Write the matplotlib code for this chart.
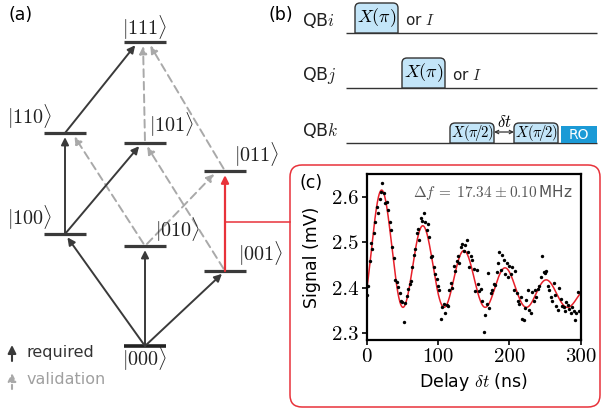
import numpy as np
import matplotlib.pyplot as plt
from matplotlib.patches import FancyBboxPatch, Rectangle, PathPatch
from matplotlib.path import Path

plt.rcParams['mathtext.fontset'] = 'cm'
plt.rcParams['font.family'] = 'DejaVu Sans'

# ---- (a) level diagram data
states = ['000', '100', '010', '001', '110', '101', '011', '111']
state_col = [1, 0, 1, 2, 0, 1, 2, 1]
state_energy = [0, 112, 100, 75, 213, 203, 175, 304]
required = [('000', '100'), ('000', '010'), ('000', '001'),
            ('100', '110'), ('100', '101'), ('110', '111')]
validation = [('010', '110'), ('010', '011'), ('001', '101'),
              ('101', '111'), ('011', '111')]
measured = [('001', '011')]

# ---- (b) pulse sequence data
qubits = ['QB$i$', 'QB$j$', 'QB$k$']
pulse_qubit = [0, 1, 2, 2]
pulse_start = [9, 56, 104, 168]
pulse_len = [43, 43, 44, 44]
pulse_angle = [1.0, 1.0, 0.5, 0.5]   # in units of pi
pulse_label = [r'$X(\pi)$', r'$X(\pi)$', r'$X(\pi\!/\!2)$', r'$X(\pi\!/\!2)$']
ro_start, ro_len = 215, 36
seq_end = 251

# ---- (c) Ramsey data
delay_ns = np.arange(0, 300, 2)
signal_mv = [
    2.385, 2.405, 2.460, 2.498, 2.485, 2.522, 2.545, 2.578, 2.565, 2.595,
    2.612, 2.632, 2.610, 2.588, 2.590, 2.572, 2.545, 2.528, 2.490, 2.465,
    2.418, 2.412, 2.402, 2.388, 2.370, 2.368, 2.324, 2.366, 2.382, 2.398,
    2.408, 2.415, 2.445, 2.472, 2.485, 2.520, 2.530, 2.505, 2.555, 2.548,
    2.565, 2.545, 2.527, 2.541, 2.512, 2.468, 2.470, 2.445, 2.430, 2.420,
    2.405, 2.395, 2.331, 2.358, 2.365, 2.345, 2.362, 2.360, 2.395, 2.410,
    2.400, 2.448, 2.438, 2.460, 2.470, 2.455, 2.490, 2.497, 2.482, 2.495,
    2.505, 2.478, 2.445, 2.470, 2.462, 2.442, 2.392, 2.440, 2.408, 2.392,
    2.398, 2.372, 2.303, 2.340, 2.365, 2.432, 2.356, 2.388, 2.396, 2.408,
    2.407, 2.435, 2.455, 2.480, 2.440, 2.473, 2.462, 2.430, 2.455, 2.425,
    2.448, 2.430, 2.445, 2.395, 2.438, 2.388, 2.372, 2.365, 2.380, 2.332,
    2.330, 2.355, 2.373, 2.395, 2.352, 2.345, 2.390, 2.370, 2.395, 2.380,
    2.398, 2.405, 2.425, 2.470, 2.435, 2.432, 2.438, 2.405, 2.395, 2.380,
    2.372, 2.410, 2.385, 2.360, 2.352, 2.400, 2.375, 2.360, 2.357, 2.348,
    2.368, 2.362, 2.353, 2.345, 2.358, 2.350, 2.330, 2.345, 2.390, 2.348,
]
# fit parameters (decaying Ramsey fringe)
fit_freq_mhz = 17.34
fit_base = 2.357
fit_amp = 0.148
fit_t2 = 159.0
fit_tpeak = 22.0

W, H = 602, 409
fig = plt.figure(figsize=(W / 100, H / 100), dpi=100)

dark = '#3a3a3a'
light = '#a9a9a9'
red = '#e8323a'

# ================= (a)
ax_a = fig.add_axes([0, 0, 290 / W, 1])
ax_a.set_xlim(-0.8125, 2.8125)
ax_a.set_ylim(-63, 346)
ax_a.axis('off')
pos = {s: (c, e) for s, c, e in zip(states, state_col, state_energy)}

for s in states:
    c, e = pos[s]
    ax_a.hlines(e, c - 0.26, c + 0.26, color='#222' if s == '000' else dark,
                lw=2.6 if s == '000' else 2.3, zorder=3)

tip_off = {('100', '101'): -0.04, ('110', '111'): -0.09,
           ('010', '110'): 0.09, ('010', '011'): -0.1,
           ('101', '111'): -0.025, ('011', '111'): 0.04}

def draw_arrow(src, dst, color, ls='-', shrinkA=0, lw=1.4):
    (c0, e0), (c1, e1) = pos[src], pos[dst]
    c1 = c1 + tip_off.get((src, dst), 0)
    ax_a.annotate('', xy=(c1, e1), xytext=(c0, e0),
                  arrowprops=dict(arrowstyle='-|>', color=color, lw=lw,
                                  linestyle=ls, shrinkA=shrinkA, shrinkB=3,
                                  mutation_scale=11))

for s, d in validation:
    draw_arrow(s, d, light, ls=(0, (4, 2.5)), shrinkA=2)
for s, d in required:
    draw_arrow(s, d, dark)
for s, d in measured:
    draw_arrow(s, d, red, lw=1.6)

label_off = {'111': (0, 14), '110': (-0.44, 16), '100': (-0.44, 16),
             '101': (0.33, 18), '010': (0.41, 16), '011': (0.4, 16),
             '001': (0.44, 17), '000': (0, -13)}
for s in states:
    c, e = pos[s]
    dx, dy = label_off[s]
    ax_a.text(c + dx, e + dy, r'$|%s\rangle$' % s, ha='center', va='center',
              fontsize=14.5, color='#222')

# connector to panel (c)
c_m, e_m = pos['001'][0], 124
ax_a.plot([c_m, 2.8125], [e_m, e_m], color=red, lw=1.1, clip_on=False)

# legend
ax_a.annotate('', xy=(-0.6625, 1), xytext=(-0.6625, -15),
              arrowprops=dict(arrowstyle='-|>', color=dark, lw=1.5,
                              shrinkA=0, shrinkB=0, mutation_scale=12))
ax_a.text(-0.475, -6, 'required', fontsize=11.5, color='#333', va='center')
ax_a.annotate('', xy=(-0.6625, -27), xytext=(-0.6625, -43),
              arrowprops=dict(arrowstyle='-|>', color=light, lw=1.5,
                              linestyle=(0, (2, 1.5)), shrinkA=0, shrinkB=0,
                              mutation_scale=12))
ax_a.text(-0.475, -34, 'validation', fontsize=11.5, color='#a0a0a0', va='center')

# ================= (b)
ax_b = fig.add_axes([290 / W, (H - 155) / H, 312 / W, 155 / H])
ax_b.set_xlim(-56, 256)
ax_b.set_ylim(-2.218, 0.6)
ax_b.axis('off')

px_y = 1 / 55.0
for q, name in enumerate(qubits):
    ax_b.hlines(-q, 0, seq_end, color='#333', lw=1.0)
    ax_b.text(-44, -q + 13 * px_y, name, fontsize=12.5, va='center', color='#222')

def top_round_box(x0, y0, w, h, rx, ry):
    verts = [(x0, y0), (x0, y0 + h - ry), (x0, y0 + h), (x0 + rx, y0 + h),
             (x0 + w - rx, y0 + h), (x0 + w, y0 + h), (x0 + w, y0 + h - ry),
             (x0 + w, y0), (x0, y0)]
    codes = [Path.MOVETO, Path.LINETO, Path.CURVE3, Path.CURVE3, Path.LINETO,
             Path.CURVE3, Path.CURVE3, Path.LINETO, Path.CLOSEPOLY]
    return Path(verts, codes)

for q, x0, w, ang, lab in zip(pulse_qubit, pulse_start, pulse_len, pulse_angle, pulse_label):
    h = (10 + 20 * ang) * px_y
    p = PathPatch(top_round_box(x0, -q, w, h, 5, 5 * px_y),
                  facecolor='#c3e5f8', edgecolor='#333', lw=1.0, zorder=3)
    ax_b.add_patch(p)
    ax_b.text(x0 + w / 2, -q + h / 2, lab, ha='center', va='center',
              fontsize=13 if ang == 1 else 10.5, zorder=4)
    if ang == 1:
        ax_b.text(x0 + w + 7, -q + 13 * px_y, 'or $I$', fontsize=11,
                  va='center', color='#222')

ax_b.add_patch(Rectangle((ro_start, -2), ro_len, 17 * px_y,
                         facecolor='#1b9ad6', edgecolor='none', zorder=3))
ax_b.text(ro_start + ro_len / 2, -2 + 8.5 * px_y, 'RO', color='white',
          ha='center', va='center', fontsize=10, zorder=4)
gap0 = pulse_start[2] + pulse_len[2]
gap1 = pulse_start[3]
ax_b.annotate('', xy=(gap0, -2 + 11 * px_y), xytext=(gap1, -2 + 11 * px_y),
              arrowprops=dict(arrowstyle='<->', color='#333', lw=0.9,
                              shrinkA=0, shrinkB=0, mutation_scale=6))
ax_b.text((gap0 + gap1) / 2, -2 + 21 * px_y, r'$\delta t$', ha='center',
          va='center', fontsize=12)

# ================= red frame
frame = FancyBboxPatch((290 / W, 2 / H), 310 / W, 242 / H,
                       boxstyle='round,pad=0,rounding_size=%f' % (12 / W),
                       mutation_aspect=W / H, transform=fig.transFigure,
                       facecolor='none', edgecolor=red, lw=1.1)
fig.add_artist(frame)

# ================= (c)
ax_c = fig.add_axes([366.7 / W, (H - 340) / H, 214 / W, 166 / H])
tt = np.linspace(0, 300, 601)
fit = fit_base + fit_amp * np.exp(-tt / fit_t2) * (
    1 + np.cos(2 * np.pi * fit_freq_mhz * 1e-3 * (tt - fit_tpeak)))
ax_c.plot(tt, fit, color='#e8202a', lw=1.1, zorder=2)
ax_c.scatter(delay_ns, signal_mv, s=6, c='k', lw=0, zorder=3)
ax_c.set_xlim(0, 300)
ax_c.set_ylim(2.285, 2.651)
ax_c.set_xticks([0, 100, 200, 300])
ax_c.set_yticks([2.3, 2.4, 2.5, 2.6])
ax_c.set_yticklabels(['2.3', '2.4', '2.5', '2.6'])
for lab in ax_c.get_xticklabels() + ax_c.get_yticklabels():
    lab.set_fontfamily('cmr10')
    lab.set_fontsize(15)
ax_c.tick_params(direction='out', length=3.6, width=1.2, pad=2.5)
for sp in ax_c.spines.values():
    sp.set_linewidth(1.6)
ax_c.set_xlabel(r'Delay $\delta t$ (ns)', fontsize=12.5, va='center')
ax_c.set_ylabel('Signal (mV)', fontsize=12.5, va='center')
ax_c.xaxis.set_label_coords(0.497, -0.253)
ax_c.yaxis.set_label_coords(-0.257, 0.5)
ax_c.text(0.959, 0.886, r'$\Delta f\:=\:17.34\:\pm\:0.10\,$MHz',
          transform=ax_c.transAxes, ha='right', va='center', fontsize=11,
          color='#555')

fig.text(8 / W, 1 - 15 / H, '(a)', fontsize=12.5, va='center')
fig.text(268 / W, 1 - 15 / H, '(b)', fontsize=12.5, va='center')
fig.text(311 / W, 1 - 183 / H, '(c)', fontsize=12.5, va='center', ha='center')

fig.savefig('out.png', dpi=100)
